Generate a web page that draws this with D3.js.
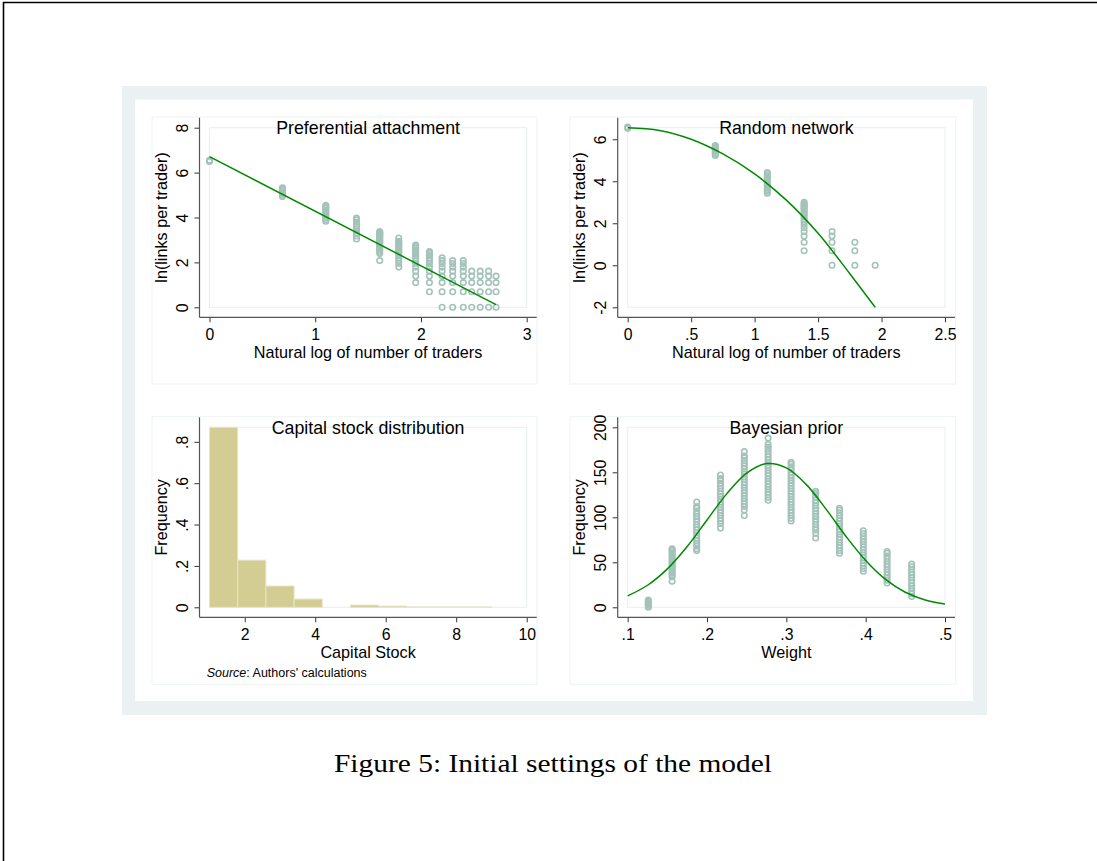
<!DOCTYPE html>
<meta charset="utf-8">
<script src="https://cdnjs.cloudflare.com/ajax/libs/d3/7.8.5/d3.min.js"></script>
<style>
    body { margin: 0; background: #fff; }
    svg text { font-family: 'Liberation Sans', Arial, Helvetica, sans-serif; fill: #000; }
    .tick text { font-size: 15.8px; }
    .ptitle { font-size: 17.8px; text-anchor: middle; }
    .atitle { font-size: 16.2px; text-anchor: middle; }
    .caption { font-family: 'Liberation Serif', 'DejaVu Serif', serif !important; font-size: 25px; text-anchor: middle; }
</style>
<div id="fig"></div>
<script>
    // ---- Preferential attachment: x = ln(traders), y = ln(links per trader), one list per column
    const prefX = [0, 0.69, 1.10, 1.39, 1.61, 1.79, 1.95, 2.08, 2.20, 2.30, 2.40, 2.48, 2.56, 2.64, 2.71];
    const prefY = [
        [6.50, 6.55],
        [4.94, 5.02, 5.09, 5.15, 5.22, 5.28, 5.32],
        [3.83, 3.91, 4.00, 4.08, 4.16, 4.25, 4.33, 4.41, 4.48, 4.54],
        [3.04, 3.18, 3.30, 3.40, 3.50, 3.60, 3.70, 3.80, 3.90, 3.97],
        [2.08, 2.40, 2.48, 2.56, 2.64, 2.71, 2.77, 2.83, 2.89, 2.94, 3.00, 3.04, 3.09, 3.14, 3.18, 3.22, 3.26, 3.30, 3.33, 3.37],
        [1.79, 1.95, 2.08, 2.20, 2.30, 2.40, 2.48, 2.56, 2.64, 2.71, 2.77, 2.83, 2.89, 2.94, 3.09],
        [1.10, 1.39, 1.61, 1.79, 1.95, 2.08, 2.20, 2.30, 2.40, 2.48, 2.56, 2.64, 2.71, 2.77],
        [0.69, 1.10, 1.39, 1.61, 1.79, 1.95, 2.08, 2.20, 2.30, 2.40, 2.48],
        [0, 0.69, 1.10, 1.39, 1.61, 1.79, 1.95, 2.08, 2.20],
        [0, 0.69, 1.10, 1.39, 1.61, 1.79, 1.95, 2.08],
        [0, 0.69, 1.10, 1.39, 1.61, 1.79, 1.95, 2.08],
        [0, 0.69, 1.10, 1.39, 1.61],
        [0, 0.69, 1.10, 1.39, 1.61],
        [0, 0.69, 1.10, 1.39, 1.61],
        [0, 0.69, 1.10, 1.39]
    ];
    const prefFitX = [0, 2.71];
    const prefFitY = [6.71, 0.12];

    // ---- Random network
    const randX = [0, 0.69, 1.10, 1.39, 1.61, 1.79, 1.95];
    const randY = [
        [6.52, 6.58],
        [5.23, 5.30, 5.37, 5.44, 5.51, 5.58, 5.65, 5.70],
        [3.43, 3.52, 3.60, 3.68, 3.76, 3.84, 3.92, 4.00, 4.08, 4.16, 4.24, 4.32, 4.41],
        [0.69, 1.10, 1.39, 1.61, 1.79, 1.95, 2.08, 2.20, 2.30, 2.40, 2.48, 2.56, 2.64, 2.71, 2.77, 2.83, 2.89, 2.94, 3.00],
        [0, 0.69, 1.10, 1.39, 1.61],
        [0, 0.69, 1.10],
        [0]
    ];
    const randFitX = [0, 0.25, 0.5, 0.75, 1.0, 1.25, 1.5, 1.75, 1.95];
    const randFitY = [6.55, 6.42, 6.00, 5.30, 4.35, 3.10, 1.52, -0.40, -2.00];

    // ---- Capital stock histogram
    const capBinStart = [1.0, 1.8, 2.6, 3.4, 4.2, 5.0, 5.8, 6.6, 7.4, 8.2];
    const capBinEnd   = [1.8, 2.6, 3.4, 4.2, 5.0, 5.8, 6.6, 7.4, 8.2, 9.0];
    const capFreq     = [0.87, 0.228, 0.103, 0.04, 0, 0.011, 0.006, 0.002, 0.002, 0.002];

    // ---- Bayesian prior
    const bayesX = [0.126, 0.156, 0.187, 0.217, 0.247, 0.277, 0.306, 0.337, 0.367, 0.397, 0.427, 0.458];
    const bayesY = [
        [0, 2, 3, 4, 5, 6, 7, 8],
        [29, 34, 36, 38, 40, 42, 44, 46, 48, 50, 52, 54, 56, 58, 60, 62, 64, 65],
        [63, 65, 68, 71, 74, 77, 80, 83, 86, 89, 92, 95, 98, 101, 104, 107, 110, 112, 117],
        [88, 93, 96, 99, 102, 105, 108, 111, 114, 117, 120, 123, 126, 129, 132, 135, 138, 141, 143, 147],
        [102, 108, 112, 115, 118, 121, 124, 127, 130, 133, 136, 139, 142, 145, 148, 151, 154, 157, 160, 163, 166, 168, 173],
        [119, 122, 125, 128, 131, 134, 137, 140, 143, 146, 149, 152, 155, 158, 161, 164, 167, 170, 173, 176, 178, 181, 188],
        [96, 99, 102, 105, 108, 111, 114, 117, 120, 123, 126, 129, 132, 135, 138, 141, 144, 147, 150, 153, 156, 159, 161],
        [77, 82, 86, 89, 92, 95, 98, 101, 104, 107, 110, 113, 116, 119, 122, 125, 127, 129],
        [60, 63, 66, 69, 72, 75, 78, 81, 84, 87, 90, 93, 96, 99, 102, 105, 108, 110],
        [40, 43, 46, 49, 52, 55, 58, 61, 64, 67, 70, 73, 76, 79, 82, 85],
        [27, 30, 33, 36, 39, 42, 45, 48, 51, 54, 57, 60, 62],
        [12, 15, 18, 21, 24, 27, 30, 33, 36, 39, 42, 45, 48]
    ];
    const bayesFitX = [0.1, 0.125, 0.15, 0.175, 0.2, 0.225, 0.25, 0.275, 0.3, 0.325, 0.35, 0.375, 0.4, 0.425, 0.45, 0.475, 0.5];
    const bayesFitY = [12.7, 24.5, 42.7, 67.6, 97, 126.3, 149.1, 159.7, 155, 136.6, 109.1, 79, 52, 31, 16.7, 8.2, 3.7];

    const markerColor = "#A3C2BA";
    const fitColor = "#008A00";

    const svg = d3.select("#fig").append("svg")
        .attr("width", 1097)
        .attr("height", 861);

    // page border (top and left only)
    svg.append("path").attr("d", "M3.5,861 L3.5,2.5 L1097,2.5")
        .attr("fill", "none").attr("stroke", "#000").attr("stroke-width", 1.6);

    // graph region
    svg.append("rect").attr("x", 122).attr("y", 86).attr("width", 865).attr("height", 629).attr("fill", "#EBF1F3");
    svg.append("rect").attr("x", 135).attr("y", 99.5).attr("width", 838).attr("height", 601.5).attr("fill", "#fff");

    const stataFmt = d => String(d).replace(/^(-?)0\./, "$1.");

    function drawPanel(p) {
        let g = svg.append("g");
        g.append("rect")
            .attr("x", p.box[0]).attr("y", p.box[1])
            .attr("width", p.box[2] - p.box[0]).attr("height", p.box[3] - p.box[1])
            .attr("fill", "#fff").attr("stroke", "#EDF3F4");
        g.append("rect")
            .attr("x", p.px[0]).attr("y", p.py[0])
            .attr("width", p.px[1] - p.px[0]).attr("height", p.py[1] - p.py[0])
            .attr("fill", "none").attr("stroke", "#E6EFF0");

        // layer for the marks, kept under the axes and titles
        let marks = g.append("g");

        let x = d3.scaleLinear().domain(p.xDomain).range(p.px);
        let y = d3.scaleLinear().domain(p.yDomain).range([p.py[1], p.py[0]]);
        let axisY = p.py[1] + 10,   // where the x axis sits
            axisX = p.px[0] - 10;   // where the y axis sits

        let gx = g.append("g")
            .attr("transform", "translate(0," + axisY + ")")
            .attr("color", "#333")
            .call(d3.axisBottom(x).tickValues(p.xTicks).tickFormat(stataFmt).tickSize(5).tickPadding(6.5));
        gx.select(".domain").remove();
        gx.selectAll(".tick text").attr("dy", "0.72em");

        let gy = g.append("g")
            .attr("transform", "translate(" + axisX + ",0)")
            .attr("color", "#333")
            .call(d3.axisLeft(y).tickValues(p.yTicks).tickFormat(stataFmt).tickSize(5));
        gy.select(".domain").remove();
        gy.selectAll(".tick text")
            .attr("x", 0).attr("dy", null)
            .attr("text-anchor", "middle")
            .attr("transform", "translate(-12,0) rotate(-90)");

        g.append("line")
            .attr("x1", axisX).attr("x2", p.px[1] + 10)
            .attr("y1", axisY).attr("y2", axisY)
            .attr("stroke", "#555").attr("stroke-width", 1.2);
        g.append("line")
            .attr("x1", axisX).attr("x2", axisX)
            .attr("y1", p.py[0] - 10).attr("y2", axisY)
            .attr("stroke", "#555").attr("stroke-width", 1.2);

        // titles
        g.append("text").attr("class", "ptitle")
            .attr("x", (p.px[0] + p.px[1]) / 2).attr("y", p.py[0] + 6.5)
            .text(p.title);
        g.append("text").attr("class", "atitle")
            .attr("x", (p.px[0] + p.px[1]) / 2).attr("y", axisY + 40.5)
            .text(p.xTitle);
        g.append("text").attr("class", "atitle")
            .attr("transform", "translate(" + (axisX - 32.5) + "," + ((p.py[0] + p.py[1]) / 2) + ") rotate(-90)")
            .text(p.yTitle);

        return {g: g, marks: marks, x: x, y: y};
    }

    function scatter(panel, xs, ys) {
        let pts = [];
        xs.forEach((xv, i) => ys[i].forEach(yv => pts.push([xv, yv])));
        panel.marks.append("g").selectAll("circle")
            .data(pts)
            .enter().append("circle")
            .attr("cx", d => panel.x(d[0]))
            .attr("cy", d => panel.y(d[1]))
            .attr("r", 2.75)
            .attr("fill", "none")
            .attr("stroke", markerColor)
            .attr("stroke-width", 1.6);
    }

    function fitLine(panel, xs, ys, curve) {
        panel.marks.append("path")
            .datum(xs.map((xv, i) => [xv, ys[i]]))
            .attr("fill", "none")
            .attr("stroke", fitColor)
            .attr("stroke-width", 1.5)
            .attr("d", d3.line()
                .x(d => panel.x(d[0]))
                .y(d => panel.y(d[1]))
                .curve(curve || d3.curveLinear));
    }

    // top left
    let pref = drawPanel({
        box: [152, 117, 537, 384], px: [209.5, 526.7], py: [127.7, 307.3],
        xDomain: [0, 3], yDomain: [0, 8], xTicks: [0, 1, 2, 3], yTicks: [0, 2, 4, 6, 8],
        title: "Preferential attachment", xTitle: "Natural log of number of traders", yTitle: "ln(links per trader)"
    });
    scatter(pref, prefX, prefY);
    fitLine(pref, prefFitX, prefFitY);

    // top right
    let rand = drawPanel({
        box: [570, 117, 955.7, 384], px: [627.7, 945], py: [127.7, 307.3],
        xDomain: [0, 2.5], yDomain: [-2, 6.55], xTicks: [0, 0.5, 1, 1.5, 2, 2.5], yTicks: [-2, 0, 2, 4, 6],
        title: "Random network", xTitle: "Natural log of number of traders", yTitle: "ln(links per trader)"
    });
    scatter(rand, randX, randY);
    fitLine(rand, randFitX, randFitY, d3.curveCatmullRom);

    // bottom left
    let cap = drawPanel({
        box: [152, 416.7, 537, 684.3], px: [209.5, 526.7], py: [427.3, 607.3],
        xDomain: [1, 10], yDomain: [0, 0.87], xTicks: [2, 4, 6, 8, 10], yTicks: [0, 0.2, 0.4, 0.6, 0.8],
        title: "Capital stock distribution", xTitle: "Capital Stock", yTitle: "Frequency"
    });
    cap.marks.selectAll("rect")
        .data(capFreq.map((f, i) => ({a: capBinStart[i], b: capBinEnd[i], f: f})).filter(d => d.f > 0))
        .enter().append("rect")
        .attr("x", d => cap.x(d.a))
        .attr("width", d => cap.x(d.b) - cap.x(d.a))
        .attr("y", d => cap.y(d.f))
        .attr("height", d => cap.y(0) - cap.y(d.f))
        .attr("fill", "#D3CD94")
        .attr("stroke", "#E9E6C9")
        .attr("stroke-width", 0.9);
    let src = cap.g.append("text").attr("x", 206.7).attr("y", 677).attr("font-size", 12.5);
    src.append("tspan").attr("font-style", "italic").text("Source");
    src.append("tspan").text(": Authors' calculations");

    // bottom right
    let bayes = drawPanel({
        box: [570, 416.7, 955.7, 684.3], px: [627.7, 945], py: [427.3, 607.3],
        xDomain: [0.1, 0.5], yDomain: [0, 200], xTicks: [0.1, 0.2, 0.3, 0.4, 0.5], yTicks: [0, 50, 100, 150, 200],
        title: "Bayesian prior", xTitle: "Weight", yTitle: "Frequency"
    });
    scatter(bayes, bayesX, bayesY);
    fitLine(bayes, bayesFitX, bayesFitY, d3.curveCatmullRom);

    // caption
    svg.append("text").attr("class", "caption")
        .attr("x", 553).attr("y", 772)
        .attr("textLength", 438).attr("lengthAdjust", "spacingAndGlyphs")
        .text("Figure 5: Initial settings of the model");
</script>
